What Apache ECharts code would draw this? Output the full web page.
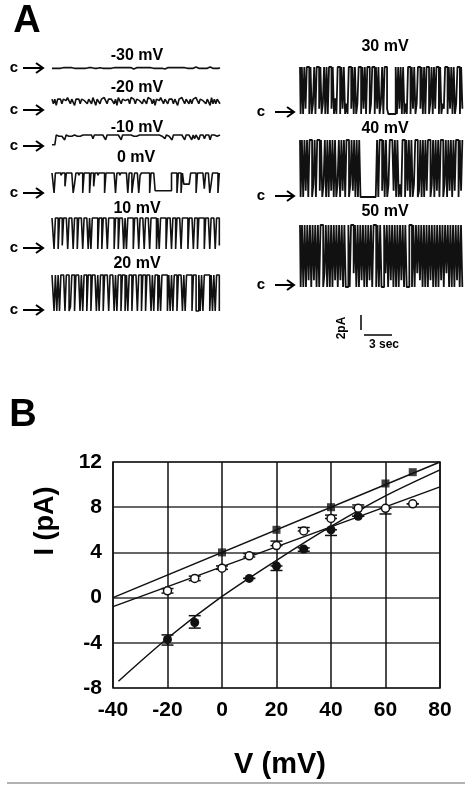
<!DOCTYPE html>
<html>
<head>
<meta charset="utf-8">
<script src="https://cdn.jsdelivr.net/npm/echarts@6/dist/echarts.min.js"></script>
<style>
  html, body { margin: 0; padding: 0; background: #fff; }
  #main { width: 465px; height: 785px; }
</style>
</head>
<body>
<div id="main"></div>
<script>
// ---- panel A: single channel traces, 0 = closed (c), 9 = open level ----
var traceLabels = ['-30 mV', '-20 mV', '-10 mV', '0 mV', '10 mV', '20 mV', '30 mV', '40 mV', '50 mV'];
var trM30 = '454545435454565445454345455454454356454545445454545654545434545454565455454545453454545654545455454545654545454565454545';
var trM20 = '747378747768747737874776747748737747787476774738747767748774776747748774737768747747874773778747747477874776747738474774';
var trM10 = '111998989599898999898998989896989998995989899989959899989989899898999899989999896998959898999959899596985989699959899899';
var tr0   = '9909999899399999049989909999099399899990999999909989999909905999089999990999111111111111999909909444449999099999299904999909';
var tr10  = '9909909919990999099099909990909999099099909999099099909099990999099909990999909099990999099099909999099909909999099909990991';
var tr20  = '9909090999099019909990909909909990909909990999090990990909909990990990999090990909999090909909990909999099009090999909090990';
var tr30  = '90909199090290991902909099190309909190209919090299091909' + '9029909190290991' + '000000' +
            '9091909020990919029919090990290919909021990919090299091';
var tr40  = '909091909902909919029090919090290919099029190909' + '0000000000000' +
            '90991909029991909020990919090299019090919902909190990290919091990919';
var tr50  = '9090909190919090990290909091909190900909929090919090919099090900929091909090919090099090929190909091909090919092909090919090';
var traceData = [trM30, trM20, trM10, tr0, tr10, tr20, tr30, tr40, tr50];

// ---- panel B: I-V relation ----
var sqV = [0, 20, 40, 60, 70];
var sqI = [4.0, 6.0, 8.0, 10.1, 11.1];
var openV = [-20, -10, 0, 10, 20, 30, 40, 50, 60, 70];
var openI = [0.6, 1.7, 2.6, 3.7, 4.6, 5.9, 7.0, 7.9, 7.9, 8.3];
var openLo = [0.4, 1.5, 2.5, 3.6, 4.6, 5.9, 7.0, 7.9, 7.4, 8.3];
var openHi = [0.8, 1.9, 2.8, 3.9, 5.0, 6.2, 7.3, 8.2, 7.9, 8.3];
var filV = [-20, -10, 10, 20, 30, 40, 50];
var filI = [-3.7, -2.2, 1.7, 2.8, 4.3, 6.0, 7.2];
var filLo = [-4.2, -2.7, 1.7, 2.4, 4.1, 5.5, 7.2];
var filHi = [-3.3, -1.6, 1.7, 2.8, 4.4, 6.0, 7.2];
var fitSqV = [-40, 80], fitSqI = [0, 12];
var fitOpenV = [-40, 80], fitOpenI = [-0.8, 9.8];
var fitFilV = [-38, -20, 0, 20, 40, 60, 80];
var fitFilI = [-7.4, -3.6, 0.1, 3.3, 6.3, 9.0, 11.3];

var fontB = '"Liberation Sans", Arial, sans-serif';

// trace layout: [left, top, width, height]
var traceBoxes = [
  [52, 65, 168, 6], [52, 96, 168, 14], [52, 135, 168, 11],
  [52, 173, 168, 20], [52, 218, 168, 31], [52, 275, 168, 36],
  [300, 67, 163, 47], [300, 140, 163, 57], [300, 225, 163, 62]
];
var labelPos = [[137, 56], [137, 88], [137, 128], [136, 158], [137, 209], [137, 264],
  [385, 47], [385, 129], [385, 212]];
var cLeft = [68, 110, 146, 193, 248, 310];
var cRight = [112, 196, 285];

var zip = function (a, b) { return a.map(function (v, i) { return [v, b[i]]; }); };
var toPts = function (s) { return s.split('').map(function (c, i) { return [i, +c]; }); };

var grids = [], xAxes = [], yAxes = [], series = [];
traceData.forEach(function (s, k) {
  var b = traceBoxes[k];
  grids.push({ left: b[0], top: b[1], width: b[2], height: b[3] });
  xAxes.push({ gridIndex: k, type: 'value', min: 0, max: s.length - 1, show: false });
  yAxes.push({ gridIndex: k, type: 'value', min: 0, max: 9, show: false });
  series.push({
    type: 'line', xAxisIndex: k, yAxisIndex: k, data: toPts(s), showSymbol: false,
    step: k < 3 ? false : 'middle',
    clip: false, animation: false, lineStyle: { color: '#111', width: k < 6 ? 1.6 : 1.8 }
  });
});

var gB = traceData.length;
grids.push({ left: 113, top: 462, width: 327, height: 226, show: true, borderColor: '#111', borderWidth: 1.5 });
xAxes.push({
  gridIndex: gB, type: 'value', min: -40, max: 80, interval: 20,
  axisLine: { show: false }, axisTick: { show: false },
  splitLine: { show: true, lineStyle: { color: '#111', width: 1.5 } },
  axisLabel: { margin: 12, color: '#000', fontSize: 21, fontWeight: 'bold', fontFamily: fontB }
});
yAxes.push({
  gridIndex: gB, type: 'value', min: -8, max: 12, interval: 4,
  axisLine: { show: false }, axisTick: { show: false },
  splitLine: { show: true, lineStyle: { color: '#333', width: 1.5 } },
  axisLabel: { margin: 11, color: '#000', fontSize: 21, fontWeight: 'bold', fontFamily: fontB }
});

function fitLine(data, smooth) {
  return {
    type: 'line', xAxisIndex: gB, yAxisIndex: gB, data: data, showSymbol: false, smooth: smooth,
    animation: false, lineStyle: { color: '#111', width: 1.5 }, z: 2
  };
}
series.push(fitLine(zip(fitSqV, fitSqI), false));
series.push(fitLine(zip(fitOpenV, fitOpenI), false));
series.push(fitLine(zip(fitFilV, fitFilI), 0.3));

function errBars(v, lo, hi) {
  return {
    type: 'custom', xAxisIndex: gB, yAxisIndex: gB, animation: false, z: 3,
    data: v.map(function (x, i) { return [x, lo[i], hi[i]]; }),
    renderItem: function (params, api) {
      var p1 = api.coord([api.value(0), api.value(1)]);
      var p2 = api.coord([api.value(0), api.value(2)]);
      var st = { stroke: '#111', lineWidth: 1.5 };
      var w = 6;
      return {
        type: 'group', children: [
          { type: 'line', shape: { x1: p1[0], y1: p1[1], x2: p2[0], y2: p2[1] }, style: st },
          { type: 'line', shape: { x1: p1[0] - w, y1: p1[1], x2: p1[0] + w, y2: p1[1] }, style: st },
          { type: 'line', shape: { x1: p2[0] - w, y1: p2[1], x2: p2[0] + w, y2: p2[1] }, style: st }
        ]
      };
    }
  };
}
series.push(errBars(openV, openLo, openHi));
series.push(errBars(filV, filLo, filHi));

series.push({
  type: 'scatter', xAxisIndex: gB, yAxisIndex: gB, data: zip(sqV, sqI), symbol: 'rect',
  symbolSize: 8, itemStyle: { color: '#111' }, z: 5, animation: false
});
series.push({
  type: 'scatter', xAxisIndex: gB, yAxisIndex: gB, data: zip(openV, openI), symbol: 'circle',
  symbolSize: 8, itemStyle: { color: '#fff', borderColor: '#111', borderWidth: 1.5, opacity: 1 }, z: 5, animation: false
});
series.push({
  type: 'scatter', xAxisIndex: gB, yAxisIndex: gB, data: zip(filV, filI), symbol: 'circle',
  symbolSize: 9, itemStyle: { color: '#111', opacity: 1 }, z: 5, animation: false
});

// ---- decorations ----
var graphic = [];
function txt(x, y, s, size, extra) {
  var o = {
    type: 'text', x: x, y: y, style: {
      text: s, font: 'bold ' + size + 'px ' + fontB, fill: '#000',
      textAlign: 'center', textVerticalAlign: 'middle'
    }
  };
  if (extra) { for (var k in extra) o[k] = extra[k]; }
  return o;
}
graphic.push(txt(27, 22, 'A', 38));
graphic.push(txt(23, 416, 'B', 38));
traceLabels.forEach(function (s, i) { graphic.push(txt(labelPos[i][0], labelPos[i][1], s, 16)); });

function cArrow(xc, x0, x1, y) {
  var st = { stroke: '#000', lineWidth: 2, fill: null };
  graphic.push(txt(xc, y, 'c', 15));
  graphic.push({ type: 'line', shape: { x1: x0, y1: y, x2: x1, y2: y }, style: st });
  graphic.push({ type: 'polyline', shape: { points: [[x1 - 7, y - 5], [x1, y], [x1 - 7, y + 5]] }, style: st });
}
cLeft.forEach(function (y) { cArrow(14, 23, 43, y); });
cRight.forEach(function (y) { cArrow(261, 275, 294, y); });

// scale bar
graphic.push(txt(342, 328, '2pA', 12, { rotation: Math.PI / 2 }));
graphic.push({ type: 'line', shape: { x1: 361, y1: 315, x2: 361, y2: 330 }, style: { stroke: '#000', lineWidth: 1.5 } });
graphic.push({ type: 'line', shape: { x1: 364, y1: 335, x2: 392, y2: 335 }, style: { stroke: '#000', lineWidth: 1.5 } });
graphic.push(txt(384, 345, '3 sec', 12));

// axis titles
graphic.push(txt(46, 521, 'I (pA)', 27, { rotation: Math.PI / 2 }));
graphic.push(txt(280, 765, 'V (mV)', 29));
graphic.push({ type: 'line', shape: { x1: 7, y1: 783, x2: 465, y2: 783 }, style: { stroke: '#999', lineWidth: 1.5 } });

var myChart = echarts.init(document.getElementById('main'));
myChart.setOption({
  animation: false,
  backgroundColor: '#fff',
  grid: grids,
  xAxis: xAxes,
  yAxis: yAxes,
  series: series,
  graphic: graphic
});
</script>
</body>
</html>
